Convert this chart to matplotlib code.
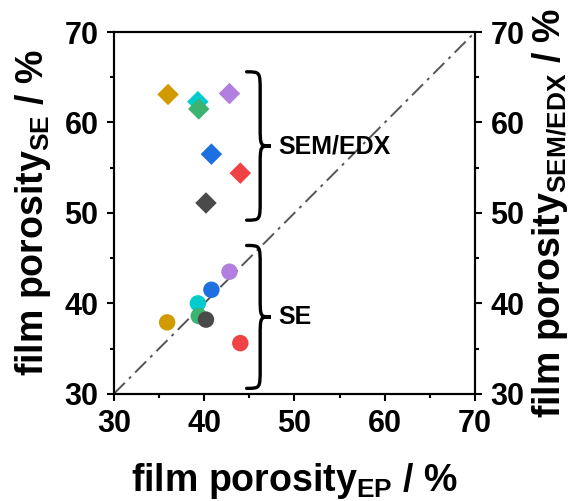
import numpy as np
import matplotlib.pyplot as plt
from matplotlib.path import Path
from matplotlib.patches import PathPatch
from matplotlib.ticker import MultipleLocator

plt.rcParams['font.family'] = ['Liberation Sans', 'DejaVu Sans']
plt.rcParams['font.weight'] = 'bold'
plt.rcParams['axes.labelweight'] = 'bold'
plt.rcParams['mathtext.fontset'] = 'custom'
plt.rcParams['mathtext.rm'] = 'Liberation Sans:bold'

# sample colours (same order for both data sets)
colors = ['#D19B00', '#00CCD0', '#3CB371', '#B07FE0', '#1E6FE0', '#F04145', '#4A4A4A']

# film porosity from ellipsometric porosimetry (x)
ep = [36.0, 39.3, 39.4, 42.8, 40.8, 44.0, 40.2]
# SEM/EDX porosity (diamonds)
sem_edx = [63.1, 62.3, 61.5, 63.2, 56.5, 54.4, 51.1]
# SE porosity (circles)
ep_se = [35.9, 39.3, 39.4, 42.8, 40.8, 44.0, 40.2]
se = [37.9, 40.0, 38.6, 43.5, 41.5, 35.6, 38.2]

fig = plt.figure(figsize=(5.78, 5.01), dpi=100)
ax = fig.add_axes([0.197, 0.214, 0.625, 0.722])

ax.plot([30, 70], [30, 70], color='#555555', lw=1.4, ls=(0, (8, 3, 1.5, 3)), zorder=1)

ax.scatter(ep_se, se, c=colors, marker='o', s=140, edgecolors='none', zorder=3)
ax.scatter(ep, sem_edx, c=colors, marker='D', s=120, edgecolors='none', zorder=3)


def brace(ax, x0, x1, x2, ytop, ybot):
    ymid = (ytop + ybot) / 2
    r = 2.2
    verts = [
        (x0, ytop),
        (x1, ytop), (x1, ytop), (x1, ytop - r),
        (x1, ymid + r),
        (x1, ymid), (x1, ymid), (x2, ymid),
        (x1, ymid), (x1, ymid), (x1, ymid - r),
        (x1, ybot + r),
        (x1, ybot), (x1, ybot), (x0, ybot),
    ]
    codes = [Path.MOVETO,
             Path.CURVE4, Path.CURVE4, Path.CURVE4,
             Path.LINETO,
             Path.CURVE4, Path.CURVE4, Path.CURVE4,
             Path.CURVE4, Path.CURVE4, Path.CURVE4,
             Path.LINETO,
             Path.CURVE4, Path.CURVE4, Path.CURVE4]
    ax.add_patch(PathPatch(Path(verts, codes), fc='none', ec='black', lw=2.4,
                           capstyle='round', zorder=2))
    return ymid


m1 = brace(ax, 44.7, 46.2, 47.4, 65.6, 49.2)
m2 = brace(ax, 44.7, 46.2, 47.4, 46.4, 30.6)
ax.text(48.2, m1, 'SEM/EDX', fontsize=18, fontweight='bold', va='center', ha='left')
ax.text(48.2, m2, 'SE', fontsize=18, fontweight='bold', va='center', ha='left')

ax.set_xlim(30, 70)
ax.set_ylim(30, 70)
for a in (ax.xaxis, ax.yaxis):
    a.set_major_locator(MultipleLocator(10))
    a.set_minor_locator(MultipleLocator(5))
ax.tick_params(which='major', direction='out', length=5, width=1.5, labelsize=22, pad=6)
ax.tick_params(which='minor', direction='out', length=3, width=1.5)
ax.tick_params(top=False, right=False)
for s in ax.spines.values():
    s.set_linewidth(1.5)

ax2 = ax.twinx()
ax2.set_ylim(30, 70)
ax2.yaxis.set_major_locator(MultipleLocator(10))
ax2.yaxis.set_minor_locator(MultipleLocator(5))
ax2.tick_params(which='major', direction='out', length=5, width=1.5, labelsize=22, pad=6)
ax2.tick_params(which='minor', direction='out', length=3, width=1.5)
for s in ax2.spines.values():
    s.set_linewidth(1.5)

ax.set_xlabel(r'film porosity$_{\mathregular{EP}}$ / %', fontsize=27, fontweight='bold', labelpad=16)
ax.set_ylabel(r'film porosity$_{\mathregular{SE}}$ / %', fontsize=27, fontweight='bold', labelpad=8)
ax2.set_ylabel(r'film porosity$_{\mathregular{SEM/EDX}}$ / %', fontsize=27, fontweight='bold', labelpad=4)

fig.savefig('out.png', dpi=100)
